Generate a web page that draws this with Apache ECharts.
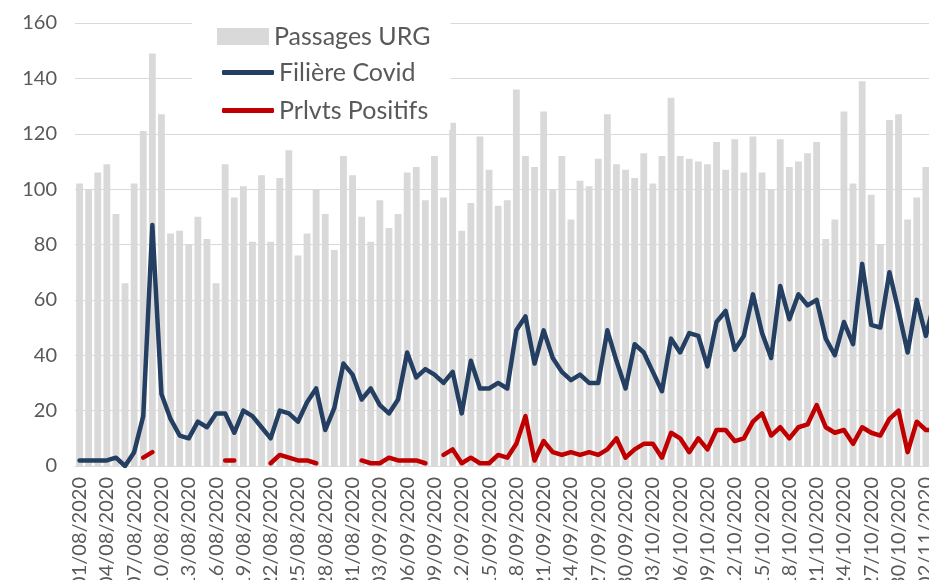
<!DOCTYPE html>
<html>
<head>
<meta charset="utf-8">
<script src="https://cdn.jsdelivr.net/npm/echarts@6/dist/echarts.min.js"></script>
<style>
html,body{margin:0;padding:0;background:#fff;}
#chart{width:929px;height:580px;}
</style>
</head>
<body>
<div id="chart"></div>
<script>
// one category per day, starting 01/08/2020 (last one is cut off on the right)
var firstDay = Date.UTC(2020, 7, 1);
var dayCount = 95;

var passages = [102,100,106,109,91,66,102,121,149,127,84,85,80,90,82,66,
	109,97,101,81,105,81,104,114,76,84,100,91,78,112,105,
	90,81,96,86,91,106,108,96,112,97,124,85,95,119,107,94,
	96,136,112,108,128,100,112,89,103,101,111,127,109,107,104,113,
	102,112,133,112,111,110,109,117,107,118,106,119,106,100,118,108,
	110,113,117,82,89,128,102,139,98,80,125,127,89,97,108,null];

var filiere = [2,2,2,2,3,0,5,18,87,26,17,11,10,16,14,19,
	19,12,20,18,14,10,20,19,16,23,28,13,21,37,33,
	24,28,22,19,24,41,32,35,33,30,34,19,38,28,28,30,
	28,49,54,37,49,39,34,31,33,30,30,49,38,28,44,41,
	34,27,46,41,48,47,36,52,56,42,47,62,48,39,65,53,
	62,58,60,46,40,52,44,73,51,50,70,56,41,60,47,60];

var positifs = [null,null,null,null,null,null,null,3,5,null,null,null,null,null,null,null,
	2,2,null,null,null,1,4,3,2,2,1,null,null,null,null,
	2,1,1,3,2,2,2,1,null,4,6,1,3,1,1,4,
	3,8,18,2,9,5,4,5,4,5,4,6,10,3,6,8,
	8,3,12,10,5,10,6,13,13,9,10,16,19,11,14,10,
	14,15,22,14,12,13,8,14,12,11,17,20,5,16,13,13];

var names = ['Passages URG', 'Filière Covid', 'Prlvts Positifs'];

function pad(n){ return (n < 10 ? '0' : '') + n; }
var days = [];
for (var i = 0; i < dayCount; i++) {
	var d = new Date(firstDay + i * 86400000);
	days.push(pad(d.getUTCDate()) + '/' + pad(d.getUTCMonth() + 1) + '/' + d.getUTCFullYear());
}

var font = 'Lato, "Liberation Sans", sans-serif';
var grey = '#595959';

var myChart = echarts.init(document.getElementById('chart'));
option = {
	backgroundColor: '#fff',
	animation: false,
	grid: {left: 75, right: -10.5, top: 23, bottom: 114, outerBoundsMode: 'none', containLabel: false},
	legend: [
		{
			data: [names[0]],
			left: 192, top: 11,
			padding: [13, 20, 81, 25],
			backgroundColor: '#fff',
			z: 3,
			itemWidth: 52, itemHeight: 17,
			itemGap: 6,
			icon: 'rect',
			textStyle: {fontFamily: font, fontSize: 25, color: grey}
		},
		{
			data: [names[1]],
			left: 217, top: 55,
			z: 5,
			itemWidth: 52, itemHeight: 5,
			icon: 'roundRect',
			textStyle: {fontFamily: font, fontSize: 25, color: grey}
		},
		{
			data: [names[2]],
			left: 217, top: 93,
			z: 5,
			itemWidth: 52, itemHeight: 5,
			icon: 'roundRect',
			textStyle: {fontFamily: font, fontSize: 25, color: grey}
		}
	],
	xAxis: {
		type: 'category',
		data: days,
		boundaryGap: true,
		axisLine: {lineStyle: {color: '#d9d9d9', width: 1}},
		axisTick: {interval: 2, length: 5, lineStyle: {color: '#d9d9d9'}},
		axisLabel: {interval: 2, rotate: 90, margin: 11, fontFamily: font, fontSize: 20, color: grey}
	},
	yAxis: {
		type: 'value',
		min: 0, max: 160, interval: 20,
		axisLine: {show: false},
		axisTick: {show: false},
		splitLine: {lineStyle: {color: '#d9d9d9', width: 1.2}},
		axisLabel: {margin: 18, fontFamily: font, fontSize: 20, color: grey}
	},
	series: [
		{
			name: names[0],
			type: 'bar',
			data: passages,
			barWidth: '75%',
			itemStyle: {color: '#d9d9d9'}
		},
		{
			name: names[1],
			type: 'line',
			data: filiere,
			symbol: 'none',
			itemStyle: {color: '#243f61'},
			lineStyle: {color: '#243f61', width: 4.5, cap: 'round', join: 'round'}
		},
		{
			name: names[2],
			type: 'line',
			data: positifs,
			symbol: 'none',
			connectNulls: false,
			itemStyle: {color: '#c00000'},
			lineStyle: {color: '#c00000', width: 4.5, cap: 'round', join: 'round'}
		}
	]
};
myChart.setOption(option);
</script>
</body>
</html>
